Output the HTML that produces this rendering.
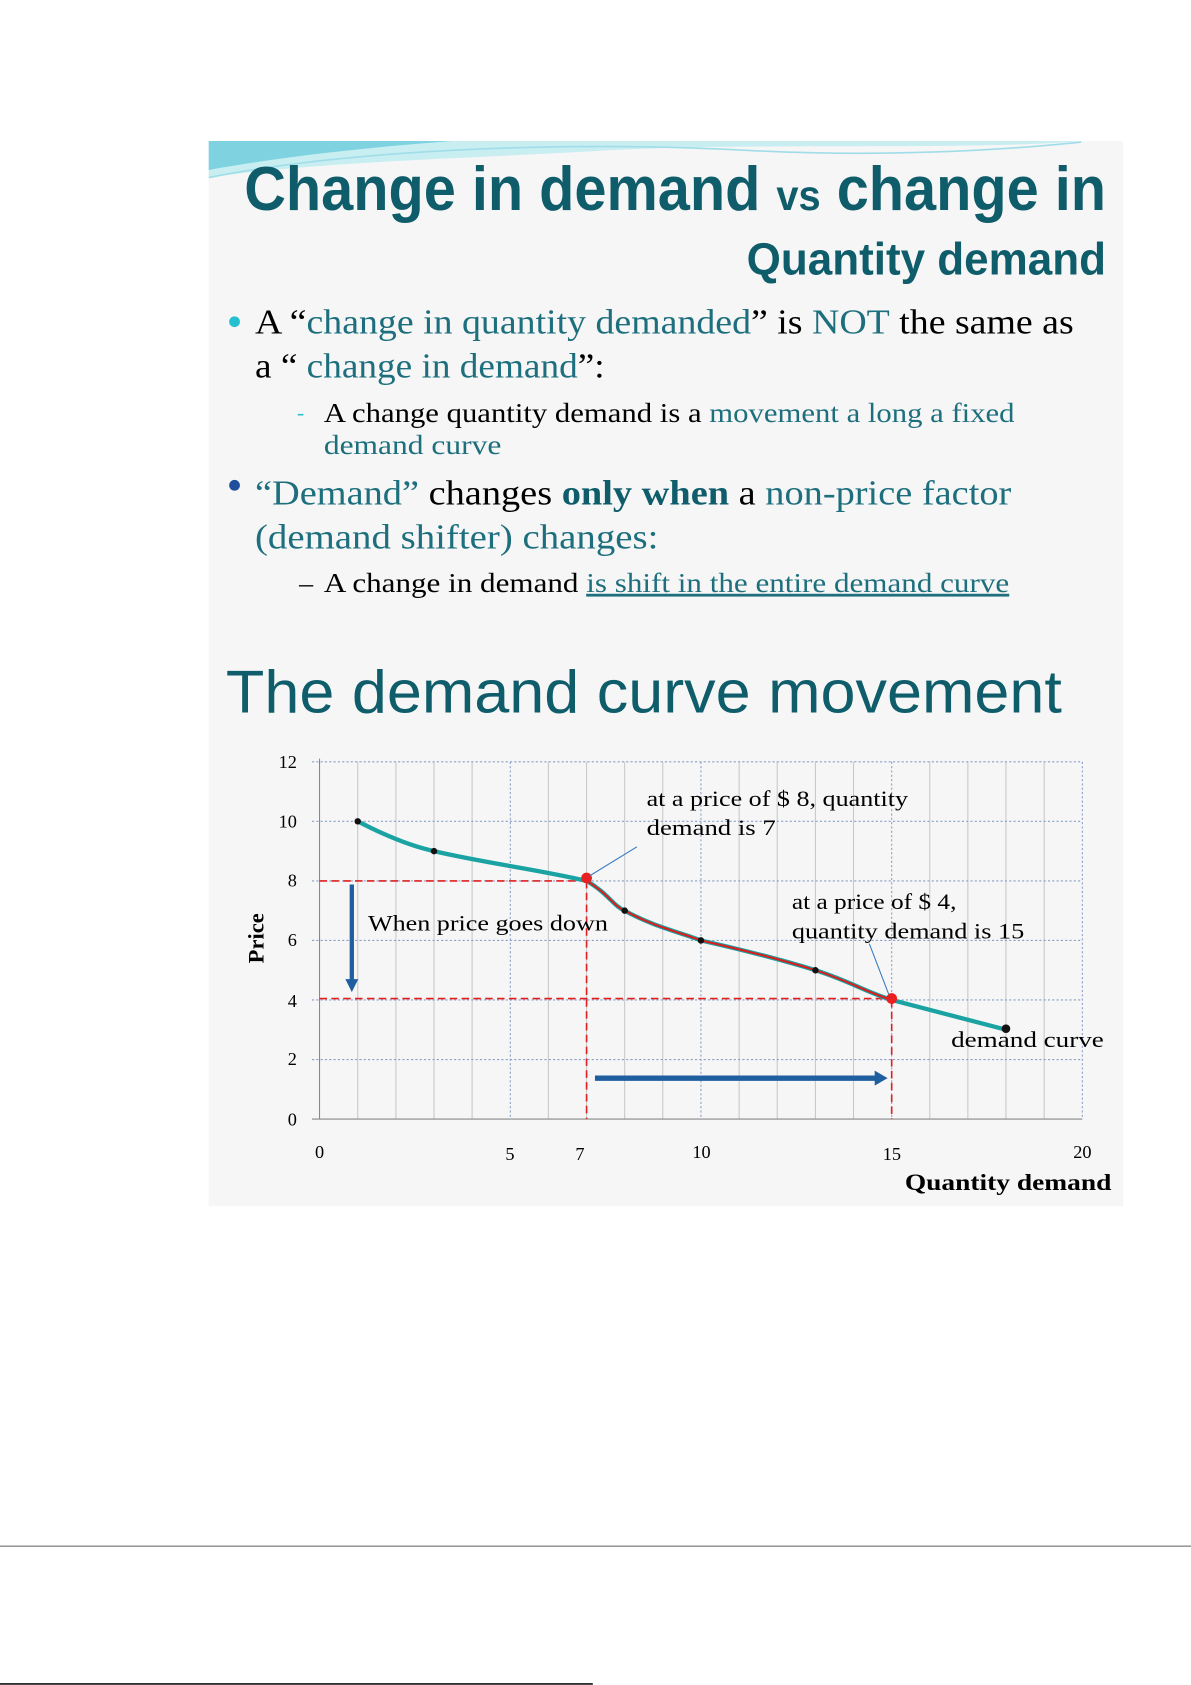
<!DOCTYPE html>
<html><head><meta charset="utf-8"><style>html,body{margin:0;padding:0;background:#fff}svg{display:block}</style></head>
<body>
<svg width="1191" height="1685" viewBox="0 0 1107 1566" preserveAspectRatio="none" xmlns="http://www.w3.org/2000/svg">
<rect x="194" y="131" width="850" height="990" fill="#f6f6f6"/>
<path d="M194 131 L1005 131 C900 140 700 132 560 140 C420 148 300 150 194 165 Z" fill="#c8eef2"/>
<path d="M194 131 L420 131 C330 138 260 146 194 158 Z" fill="#7fd3e0"/>
<path d="M194 165 C320 140 520 130 700 140 C820 146 930 140 1005 132" fill="none" stroke="#a0dde8" stroke-width="1.5"/>
<g font-family="Liberation Sans, sans-serif" font-weight="bold" fill="#0f5d6b">
<text x="227" y="195" font-size="58" textLength="801" lengthAdjust="spacingAndGlyphs">Change in demand <tspan font-size="40">vs</tspan> change in</text>
<text x="694" y="255" font-size="42" textLength="334" lengthAdjust="spacingAndGlyphs">Quantity demand</text>
</g>
<g font-family="Liberation Serif, serif" font-size="32">
<circle cx="218" cy="299" r="5" fill="#25c0d0"/>
<text x="237" y="310" textLength="761" lengthAdjust="spacingAndGlyphs">A “<tspan fill="#1e6f7e">change in quantity demanded</tspan>” is <tspan fill="#1e6f7e">NOT</tspan> the same as</text>
<text x="237" y="351" textLength="325" lengthAdjust="spacingAndGlyphs">a “ <tspan fill="#1e6f7e">change in demand</tspan>”:</text>
<text x="276" y="390" font-size="20" fill="#25c0d0">-</text>
<text x="301" y="392" font-size="26" textLength="642" lengthAdjust="spacingAndGlyphs">A change quantity demand is a <tspan fill="#1e6f7e">movement a long a fixed</tspan></text>
<text x="301" y="422" font-size="26" fill="#1e6f7e" textLength="165" lengthAdjust="spacingAndGlyphs">demand curve</text>
<circle cx="218" cy="451" r="5" fill="#1f4f9a"/>
<text x="237" y="469" textLength="703" lengthAdjust="spacingAndGlyphs"><tspan fill="#1e6f7e">“Demand”</tspan> changes <tspan font-weight="bold" fill="#0f5d6b">only when</tspan> a <tspan fill="#1e6f7e">non-price factor</tspan></text>
<text x="237" y="510" fill="#1e6f7e" textLength="375" lengthAdjust="spacingAndGlyphs">(demand shifter) changes:</text>
<text x="278" y="550" font-size="26">–</text>
<text x="301" y="550" font-size="26" textLength="637" lengthAdjust="spacingAndGlyphs">A change in demand <tspan fill="#1e6f7e" text-decoration="underline">is shift in the entire demand curve</tspan></text>
</g>
<line x1="545" y1="553" x2="938" y2="553" stroke="#1e6f7e" stroke-width="1.5"/>
<text x="210" y="662" font-family="Liberation Sans, sans-serif" font-size="56" fill="#0f5d6b" textLength="777" lengthAdjust="spacingAndGlyphs">The demand curve movement</text>
<!-- grid -->
<g stroke="#c8c8c8" stroke-width="1">
<line x1="332.5" y1="708" x2="332.5" y2="1040"/><line x1="368" y1="708" x2="368" y2="1040"/><line x1="403.4" y1="708" x2="403.4" y2="1040"/><line x1="438.8" y1="708" x2="438.8" y2="1040"/>
<line x1="509.7" y1="708" x2="509.7" y2="1040"/><line x1="545.2" y1="708" x2="545.2" y2="1040"/><line x1="580.6" y1="708" x2="580.6" y2="1040"/><line x1="616" y1="708" x2="616" y2="1040"/>
<line x1="687" y1="708" x2="687" y2="1040"/><line x1="722.4" y1="708" x2="722.4" y2="1040"/><line x1="757.9" y1="708" x2="757.9" y2="1040"/><line x1="793.3" y1="708" x2="793.3" y2="1040"/>
<line x1="864.2" y1="708" x2="864.2" y2="1040"/><line x1="899.6" y1="708" x2="899.6" y2="1040"/><line x1="935" y1="708" x2="935" y2="1040"/><line x1="970.5" y1="708" x2="970.5" y2="1040"/>
</g>
<g stroke="#8aa0c8" stroke-width="1" stroke-dasharray="2,2">
<line x1="474.3" y1="708" x2="474.3" y2="1040"/><line x1="651.5" y1="708" x2="651.5" y2="1040"/><line x1="828.8" y1="708" x2="828.8" y2="1040"/><line x1="1006" y1="708" x2="1006" y2="1040"/>
<line x1="290" y1="708" x2="1006" y2="708"/><line x1="290" y1="763.3" x2="1006" y2="763.3"/><line x1="290" y1="818.7" x2="1006" y2="818.7"/><line x1="290" y1="874" x2="1006" y2="874"/><line x1="290" y1="929.3" x2="1006" y2="929.3"/><line x1="290" y1="984.7" x2="1006" y2="984.7"/>
</g>
<line x1="297" y1="705" x2="297" y2="1040" stroke="#888"/>
<line x1="290" y1="1040" x2="1006" y2="1040" stroke="#888"/>
<g font-family="Liberation Serif, serif" font-size="17" text-anchor="end">
<text x="276" y="714">12</text><text x="276" y="769">10</text><text x="276" y="824">8</text><text x="276" y="879">6</text><text x="276" y="936">4</text><text x="276" y="990">2</text><text x="276" y="1046">0</text>
</g>
<g font-family="Liberation Serif, serif" font-size="17" text-anchor="middle">
<text x="297" y="1076">0</text><text x="474" y="1078">5</text><text x="539" y="1078">7</text><text x="652" y="1076">10</text><text x="829" y="1078">15</text><text x="1006" y="1076">20</text>
</g>
<text transform="translate(245 872) rotate(-90)" font-family="Liberation Serif, serif" font-size="21" font-weight="bold" text-anchor="middle">Price</text>
<text x="841" y="1106" font-family="Liberation Serif, serif" font-size="22" font-weight="bold" textLength="192" lengthAdjust="spacingAndGlyphs">Quantity demand</text>
<!-- red dashed -->
<g stroke="#e02020" stroke-width="1.5" stroke-dasharray="7,4" fill="none">
<line x1="297" y1="818.7" x2="543" y2="818.7"/><line x1="297" y1="928" x2="826" y2="928"/>
<line x1="545.2" y1="818.7" x2="545.2" y2="1040"/><line x1="828.8" y1="929.3" x2="828.8" y2="1040"/>
</g>
<!-- curve -->
<path d="M332.5 763.3 C355 775 380 786 403.4 791 C450 802 500 808 545.2 818.7 C565 830 570 842 580.6 846.3 C605 860 630 866 651.5 874 C700 885 730 893 757.9 901.7 C790 912 805 922 828.8 929.3 L935 957" fill="none" stroke="#1ba3a3" stroke-width="4"/>
<path d="M545.2 818.7 C565 830 570 842 580.6 846.3 C605 860 630 866 651.5 874 C700 885 730 893 757.9 901.7 C790 912 805 922 828.8 929.3" fill="none" stroke="#d62020" stroke-width="2"/>
<g fill="#111"><circle cx="332.5" cy="763.3" r="3"/><circle cx="403.4" cy="791" r="3"/><circle cx="580.6" cy="846.3" r="3"/><circle cx="651.5" cy="874" r="3"/><circle cx="757.9" cy="901.7" r="3"/><circle cx="935" cy="956" r="4"/></g>
<circle cx="545.2" cy="816" r="5" fill="#e82020"/><circle cx="828.8" cy="928" r="5" fill="#e82020"/>
<!-- arrows -->
<line x1="327" y1="822" x2="327" y2="912" stroke="#1f5fa0" stroke-width="4"/><path d="M321 910 L333 910 L327 922 Z" fill="#1f5fa0"/>
<line x1="553" y1="1002" x2="815" y2="1002" stroke="#1f5fa0" stroke-width="5"/><path d="M813 995 L825 1002 L813 1009 Z" fill="#1f5fa0"/>
<line x1="592" y1="787" x2="548" y2="814" stroke="#3a7cc0" stroke-width="1"/>
<line x1="808" y1="877" x2="826" y2="924" stroke="#3a7cc0" stroke-width="1"/>
<g font-family="Liberation Serif, serif" font-size="21">
<text x="601" y="749" textLength="243" lengthAdjust="spacingAndGlyphs">at a price of $ 8, quantity</text>
<text x="601" y="776" textLength="120" lengthAdjust="spacingAndGlyphs">demand is 7</text>
<text x="342" y="865" textLength="223" lengthAdjust="spacingAndGlyphs">When price goes down</text>
<text x="736" y="845" textLength="153" lengthAdjust="spacingAndGlyphs">at a price of $ 4,</text>
<text x="736" y="872" textLength="216" lengthAdjust="spacingAndGlyphs">quantity demand is 15</text>
<text x="884" y="973" textLength="142" lengthAdjust="spacingAndGlyphs">demand curve</text>
</g>
<line x1="0" y1="1437" x2="1107" y2="1437" stroke="#888" stroke-width="1.2"/>
<line x1="0" y1="1565" x2="551" y2="1565" stroke="#111" stroke-width="1.5"/>
</svg>
</body></html>
